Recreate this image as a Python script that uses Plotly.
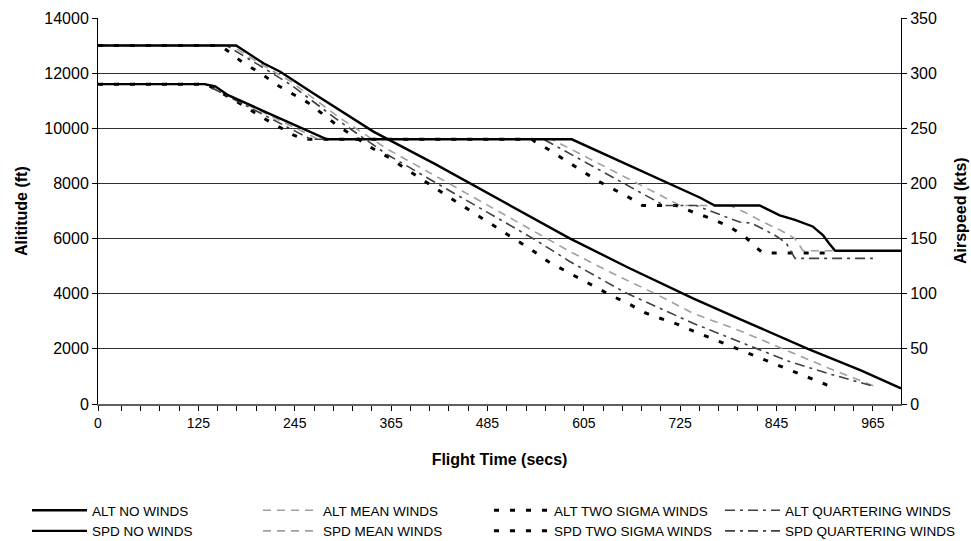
import plotly.graph_objects as go

# ---------------- data ----------------
tick_labels = {0: "0", 125: "125", 245: "245", 365: "365", 485: "485",
               605: "605", 725: "725", 845: "845", 965: "965"}
tick_marks = [0] + list(range(29, 1000, 24))   # small tick marks every 24 s

# Altitude (ft) series
alt_no_t = [0, 172, 206, 227, 268, 310, 343, 420, 500, 588, 660, 727, 741, 800, 884, 950, 1000]
alt_no_v = [13000, 13000, 12360, 12050, 11270, 10480, 9880, 8700, 7400, 6000, 4950, 4000, 3830, 3070, 2000, 1220, 570]

alt_mean_t = [0, 166, 200, 240, 300, 360, 440, 520, 588, 640, 694, 741, 800, 853, 910, 971]
alt_mean_v = [13000, 13000, 12380, 11700, 10400, 9250, 7950, 6650, 5525, 4750, 4000, 3290, 2650, 2000, 1300, 600]

alt_two_t = [0, 152, 160, 181, 204, 223, 262, 299, 339, 361, 440, 521, 540, 561, 580, 600, 621, 640, 660, 681, 700, 721, 741, 796, 850, 918]
alt_two_v = [13000, 13000, 12840, 12370, 11970, 11570, 10920, 10080, 9320, 8960, 7450, 5950, 5590, 5160, 4860, 4560, 4230, 3920, 3650, 3310, 3110, 2900, 2650, 2000, 1350, 570]

alt_quart_t = [0, 160, 200, 240, 300, 360, 440, 542, 588, 656, 741, 800, 860, 910, 965]
alt_quart_v = [13000, 13000, 12300, 11580, 10270, 9050, 7700, 6000, 5160, 4050, 2930, 2250, 1550, 1100, 650]

# Airspeed (kts) series
spd_no_t = [0, 133, 146, 162, 202, 227, 264, 285, 590, 650, 700, 750, 768, 824, 849, 868, 890, 903, 910, 918, 1000]
spd_no_v = [290, 290, 288, 280, 267, 259, 247, 240, 240, 220, 203, 187, 180, 180, 171, 167, 161, 153, 146, 139, 139]

spd_mean_t = [0, 133, 275, 565, 725, 787, 808, 828, 849, 868, 878, 971]
spd_mean_v = [290, 290, 240, 240, 180, 180, 173, 165, 158, 150, 139, 139]

spd_two_t = [0, 135, 183, 204, 224, 243, 257, 540, 544, 565, 584, 604, 623, 644, 662, 678, 720, 741, 764, 783, 804, 818, 828, 918]
spd_two_v = [290, 290, 270, 260, 252, 244, 240, 240, 238, 229, 220, 211, 202, 194, 187, 180, 180, 174, 168, 162, 153, 143, 137, 137]

spd_quart_t = [0, 133, 265, 555, 705, 745, 766, 799, 814, 843, 857, 868, 965]
spd_quart_v = [290, 290, 240, 240, 180, 180, 174, 165, 164, 153, 146, 132, 132]

# ---------------- styles ----------------
FONT = "Liberation Sans, Arial, sans-serif"
sty_no = dict(color="black", width=2.4, dash="solid")
sty_mean = dict(color="#a0a0a0", width=1.6, dash="8px,6px")
sty_two = dict(color="black", width=3, dash="5px,11px")
sty_quart = dict(color="#404040", width=1.6, dash="10px,5px,3px,5px")

# (name, t, v, style, y-axis, legend column, rank)
series = [
    ("ALT NO WINDS", alt_no_t, alt_no_v, sty_no, "y", "legend", 1),
    ("ALT MEAN WINDS", alt_mean_t, alt_mean_v, sty_mean, "y", "legend2", 2),
    ("ALT TWO SIGMA WINDS", alt_two_t, alt_two_v, sty_two, "y", "legend3", 3),
    ("ALT QUARTERING WINDS", alt_quart_t, alt_quart_v, sty_quart, "y", "legend4", 4),
    ("SPD NO WINDS", spd_no_t, spd_no_v, sty_no, "y2", "legend", 5),
    ("SPD MEAN WINDS", spd_mean_t, spd_mean_v, sty_mean, "y2", "legend2", 6),
    ("SPD TWO SIGMA WINDS", spd_two_t, spd_two_v, sty_two, "y2", "legend3", 7),
    ("SPD QUARTERING WINDS", spd_quart_t, spd_quart_v, sty_quart, "y2", "legend4", 8),
]

fig = go.Figure()
# draw dashed series first and solid ones last so solids sit on top
draw_order = [s for s in series if s[3] is not sty_no] + [s for s in series if s[3] is sty_no]
for name, t, v, sty, yax, leg, rank in draw_order:
    fig.add_trace(go.Scatter(
        x=t, y=v, name=name, mode="lines", line=sty, yaxis=yax,
        legend=leg, legendrank=rank, hoverinfo="skip",
    ))


def legend_col(xpx):
    return dict(
        orientation="v", xref="container", yref="container",
        x=xpx / 971, y=1 - 495 / 541, xanchor="left", yanchor="top",
        itemwidth=55, font=dict(size=13.5, family=FONT, color="black"),
        traceorder="normal", bgcolor="rgba(0,0,0,0)", tracegroupgap=0,
    )


all_ticks = sorted(set(tick_marks) | set(tick_labels))
all_text = [tick_labels.get(v, "") for v in all_ticks]

PL, PR, PT, PB, W, H = 98, 70, 18, 137, 971, 541
plot_w = W - PL - PR

fig.update_layout(
    width=W, height=H,
    margin=dict(l=PL, r=PR, t=PT, b=PB, autoexpand=False),
    paper_bgcolor="white", plot_bgcolor="white",
    font=dict(family=FONT, color="black", size=14),
    xaxis=dict(
        range=[0, 1000], tickmode="array", tickvals=all_ticks, ticktext=all_text,
        ticks="outside", ticklen=5, tickcolor="black", tickwidth=1,
        showline=True, linecolor="#606060", linewidth=1.5,
        showgrid=False, zeroline=False,
        tickfont=dict(size=14),
        title=dict(text="<b>Flight Time (secs)</b>", font=dict(size=16), standoff=24),
    ),
    yaxis=dict(
        range=[0, 14000], tick0=0, dtick=2000, tickformat="d",
        ticks="outside", ticklen=5, tickcolor="black",
        showline=True, linecolor="black", linewidth=1,
        showgrid=True, gridcolor="#303030", gridwidth=1, zeroline=False,
        tickfont=dict(size=16),
    ),
    yaxis2=dict(
        range=[0, 350], tick0=0, dtick=50, tickformat="d", overlaying="y", side="right",
        ticks="outside", ticklen=5, tickcolor="black",
        showline=True, linecolor="black", linewidth=1,
        showgrid=False, zeroline=False,
        tickfont=dict(size=16),
    ),
    legend=legend_col(27),
    legend2=legend_col(258),
    legend3=legend_col(489),
    legend4=legend_col(720),
    showlegend=True,
    annotations=[
        dict(text="<b>Alititude (ft)</b>", textangle=-90, xref="paper", yref="paper",
             x=(21 - PL) / plot_w, y=0.5, xanchor="center", yanchor="middle",
             showarrow=False, font=dict(size=16, family=FONT, color="black")),
        dict(text="<b>Airspeed (kts)</b>", textangle=-90, xref="paper", yref="paper",
             x=(960 - PL) / plot_w, y=0.5, xanchor="center", yanchor="middle",
             showarrow=False, font=dict(size=16, family=FONT, color="black")),
    ],
)

fig.write_html("out.html", config={"displayModeBar": False},
               post_script="document.body.style.margin='0';")
